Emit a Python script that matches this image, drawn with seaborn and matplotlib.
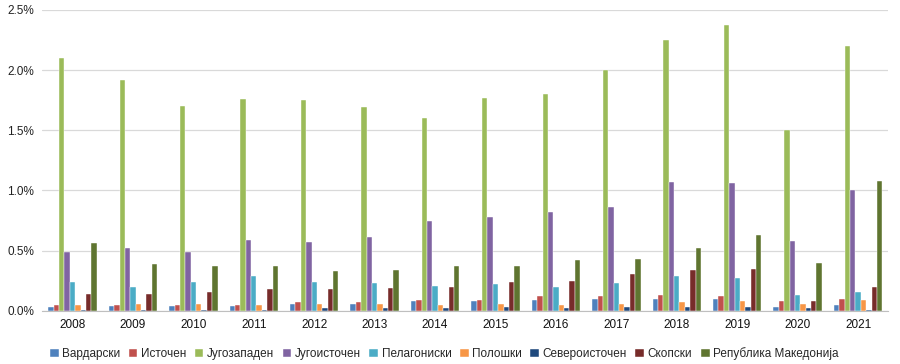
import pandas as pd
import matplotlib
matplotlib.use("Agg")
import matplotlib.pyplot as plt
import seaborn as sns
from matplotlib.ticker import FuncFormatter

# години
years = [str(y) for y in range(2008, 2022)]

# региони (по редослед во легендата)
regions = ["Вардарски", "Источен", "Југозападен", "Југоисточен", "Пелагониски",
           "Полошки", "Североисточен", "Скопски", "Република Македонија"]

# вредности во % по регион, 2008-2021
vardarski     = [0.03, 0.04, 0.04, 0.04, 0.06, 0.06, 0.08, 0.08, 0.09, 0.10, 0.10, 0.10, 0.03, 0.05]
istochen      = [0.05, 0.05, 0.05, 0.05, 0.07, 0.07, 0.09, 0.09, 0.12, 0.12, 0.13, 0.12, 0.08, 0.10]
jugozapaden   = [2.10, 1.92, 1.70, 1.76, 1.75, 1.69, 1.60, 1.77, 1.80, 2.00, 2.25, 2.37, 1.50, 2.20]
jugoistochen  = [0.49, 0.52, 0.49, 0.59, 0.57, 0.61, 0.75, 0.78, 0.82, 0.86, 1.07, 1.06, 0.58, 1.00]
pelagoniski   = [0.24, 0.20, 0.24, 0.29, 0.24, 0.23, 0.21, 0.22, 0.20, 0.23, 0.29, 0.27, 0.13, 0.16]
poloshki      = [0.05, 0.06, 0.06, 0.05, 0.06, 0.06, 0.05, 0.06, 0.05, 0.06, 0.07, 0.08, 0.06, 0.09]
severoistochen = [0.01, 0.01, 0.01, 0.01, 0.02, 0.02, 0.02, 0.03, 0.02, 0.03, 0.03, 0.03, 0.02, 0.01]
skopski       = [0.14, 0.14, 0.16, 0.18, 0.18, 0.19, 0.20, 0.24, 0.25, 0.31, 0.34, 0.35, 0.08, 0.20]
makedonija    = [0.56, 0.39, 0.37, 0.37, 0.33, 0.34, 0.37, 0.37, 0.42, 0.43, 0.52, 0.63, 0.40, 1.08]

colors = ["#4F81BD", "#C0504D", "#9BBB59", "#8064A2", "#4BACC6",
          "#F79646", "#1F497D", "#772C2A", "#5F7530"]

series = [vardarski, istochen, jugozapaden, jugoistochen, pelagoniski,
          poloshki, severoistochen, skopski, makedonija]

rows = []
for name, vals in zip(regions, series):
    for y, v in zip(years, vals):
        rows.append({"Година": y, "Регион": name, "Вредност": v})
df = pd.DataFrame(rows)

sns.set_style("white")
plt.rcParams["font.family"] = ["Liberation Sans", "DejaVu Sans"]

fig = plt.figure(figsize=(9, 3.64), dpi=100)
ax = fig.add_axes([0.047, 0.146, 0.94, 0.827])

sns.barplot(data=df, x="Година", y="Вредност", hue="Регион", order=years,
            hue_order=regions, palette=colors, width=0.8, ax=ax,
            edgecolor="white", linewidth=0.3, saturation=1)

ax.set_ylim(0, 2.5)
ax.set_yticks([0, 0.5, 1.0, 1.5, 2.0, 2.5])
ax.yaxis.set_major_formatter(FuncFormatter(lambda v, p: f"{v:.1f}%"))
ax.grid(axis="y", color="#d9d9d9", linewidth=0.9)
ax.set_axisbelow(True)
ax.set_xlim(-0.5, len(years) - 0.5)
for s in ["top", "right", "left"]:
    ax.spines[s].set_visible(False)
ax.spines["bottom"].set_color("#bfbfbf")
ax.tick_params(axis="y", length=0, labelsize=8.5, colors="#222222", pad=6)
ax.tick_params(axis="x", length=0, labelsize=8.5, colors="#111111", pad=6)
ax.set_xlabel("")
ax.set_ylabel("")

ax.legend(loc="upper center", bbox_to_anchor=(0.475, -0.085), ncol=9, frameon=False,
          fontsize=8.5, handlelength=0.75, handleheight=0.75, handletextpad=0.3,
          columnspacing=0.7)

fig.savefig("out.png", dpi=100)
